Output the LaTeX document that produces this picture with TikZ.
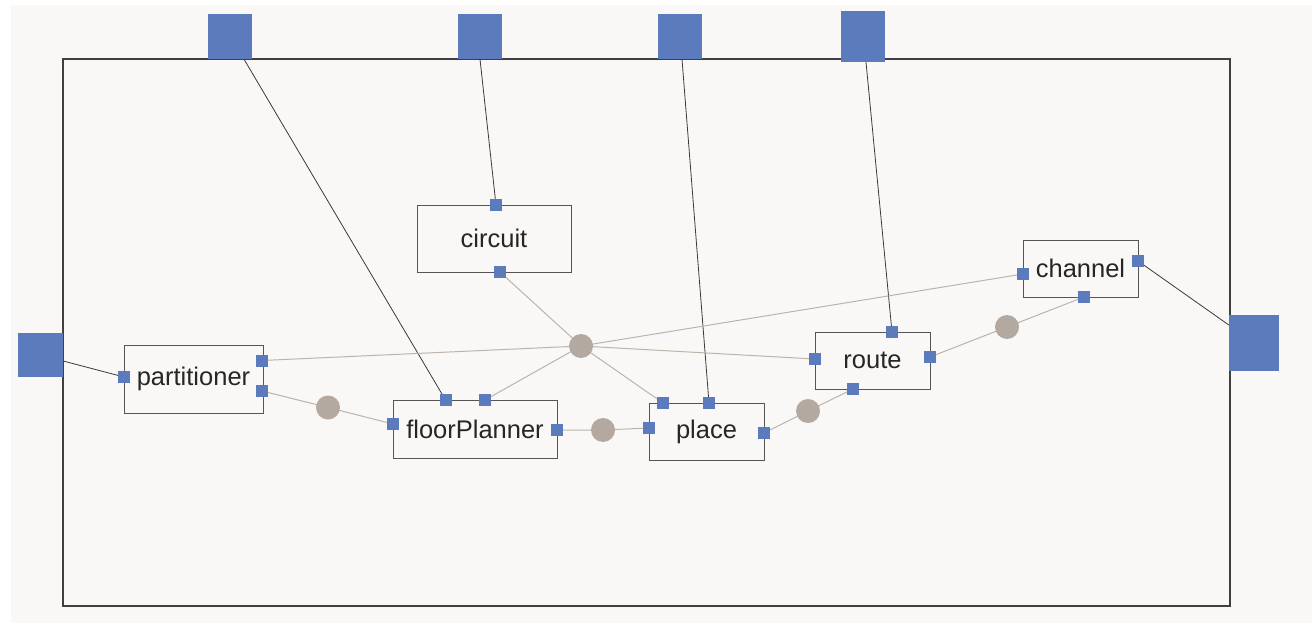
\documentclass[tikz,border=0pt]{standalone}
\usepackage{fontspec}
\setmainfont{Liberation Sans}
\usetikzlibrary{calc}
\definecolor{portblue}{HTML}{5C7BBD}
\definecolor{hubgray}{HTML}{B3A9A1}
\definecolor{wiregray}{HTML}{BDB3AB}
\definecolor{bgpaper}{HTML}{F9F8F6}
\definecolor{boxline}{HTML}{555555}
\definecolor{wireblack}{HTML}{3A3A3A}
\pgfdeclarelayer{paper}
\pgfdeclarelayer{wires}
\pgfsetlayers{paper,wires,main}
\begin{document}
\begin{tikzpicture}[x=1pt,y=-1pt,
  bigport/.style={fill=portblue, inner sep=0pt, minimum width=44pt, minimum height=45pt},
  port/.style={fill=portblue, inner sep=0pt, minimum size=12pt},
  hub/.style={circle, fill=hubgray, inner sep=0pt, minimum size=24pt},
  block/.style={draw=boxline, line width=0.9pt, inner sep=0pt, text=black!85, font=\fontsize{25.5}{30}\selectfont},
  link/.style={draw=wireblack, line width=0.8pt},
  net/.style={draw=wiregray, line width=1pt}]
\useasboundingbox (0,0) rectangle (1312,623);
\begin{pgfonlayer}{paper}
  \fill[white] (0,0) rectangle (1312,623);
  \fill[bgpaper] (11,5) rectangle (1312,623);
  \draw[draw=black!75, line width=1.2pt] (63,59) rectangle (1230,606);
\end{pgfonlayer}

% outer ports
\node[bigport] (top1) at (230,36.5) {};
\node[bigport] (top2) at (480,36.5) {};
\node[bigport] (top3) at (680,36.5) {};
\node[bigport, minimum height=51pt] (top4) at (863,36.5) {};
\node[bigport, minimum width=45pt, minimum height=44pt] (lp) at (40.5,355) {};
\node[bigport, minimum width=50pt, minimum height=56pt] (rp) at (1254,343) {};

% blocks
\node[block, minimum width=139pt, minimum height=68pt] (part) at (193.5,379) {partitioner};
\node[block, minimum width=154pt, minimum height=67pt] (circ) at (494,238.5) {circuit};
\node[block, minimum width=164pt, minimum height=58pt] (fp) at (475,429) {floorPlanner};
\node[block, minimum width=115pt, minimum height=57pt] (place) at (706.5,431.5) {place};
\node[block, minimum width=115pt, minimum height=57pt] (route) at (872.5,360.5) {route};
\node[block, minimum width=115pt, minimum height=57pt] (chan) at (1080.5,268.5) {channel};

% block ports
\node[port] (partL) at (124,377) {};
\node[port] (partR1) at (262,360.5) {};
\node[port] (partR2) at (262,391) {};
\node[port] (circT) at (496,205) {};
\node[port] (circB) at (500,272) {};
\node[port] (fpL) at (393,424) {};
\node[port] (fpT1) at (445.5,400) {};
\node[port] (fpT2) at (485,400) {};
\node[port] (fpR) at (557,430) {};
\node[port] (plL) at (649,428) {};
\node[port] (plT1) at (663,403) {};
\node[port] (plT2) at (709,403) {};
\node[port] (plR) at (764,433) {};
\node[port] (rtT) at (892,332) {};
\node[port] (rtL) at (815,359) {};
\node[port] (rtR) at (930,357) {};
\node[port] (rtB) at (853,389) {};
\node[port] (chL) at (1023,274) {};
\node[port] (chR) at (1138,261) {};
\node[port] (chB) at (1084,297) {};

% relation hubs
\node[hub] (hub) at (581,346) {};
\node[hub] (h1) at (328,407.5) {};
\node[hub] (h2) at (603,430) {};
\node[hub] (h3) at (808,411) {};
\node[hub] (h4) at (1007,327) {};

\begin{pgfonlayer}{wires}
  % black links to outer ports
  \draw[link] ([xshift=14pt]top1.south) -- (fpT1.center);
  \draw[link] (top2.south) -- (circT.center);
  \draw[link] ([xshift=2pt]top3.south) -- (plT2.center);
  \draw[link] ([xshift=3pt]top4.south) -- (rtT.center);
  \draw[link] ([yshift=-6pt]lp.east) -- (partL.center);
  \draw[link] (chR.center) -- ([yshift=18pt]rp.west);
  % gray relations
  \draw[net] (hub.center) -- (circB.center);
  \draw[net] (hub.center) -- (partR1.center);
  \draw[net] (hub.center) -- (chL.center);
  \draw[net] (hub.center) -- (rtL.center);
  \draw[net] (hub.center) -- (plT1.center);
  \draw[net] (hub.center) -- (fpT2.center);
  \draw[net] (partR2.center) -- (h1.center) -- (fpL.center);
  \draw[net] (fpR.center) -- (h2.center) -- (plL.center);
  \draw[net] (plR.center) -- (h3.center) -- (rtB.center);
  \draw[net] (rtR.center) -- (h4.center) -- (chB.center);
\end{pgfonlayer}
\end{tikzpicture}
\end{document}
